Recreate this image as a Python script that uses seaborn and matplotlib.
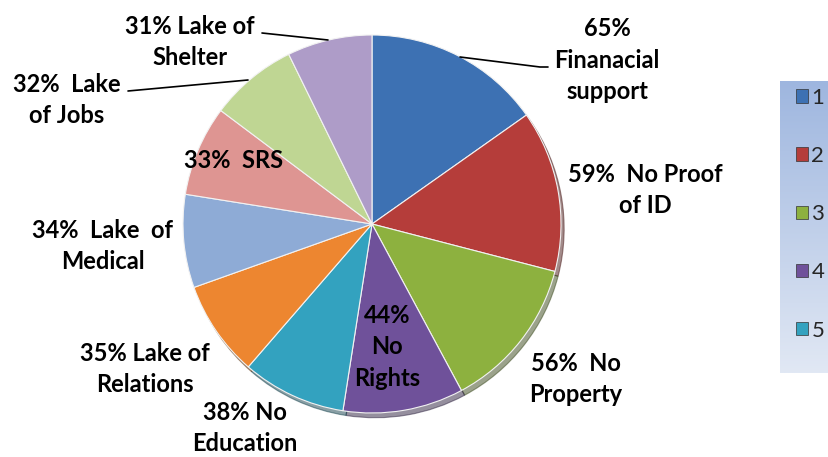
import numpy as np
import matplotlib
matplotlib.use('Agg')
import matplotlib.pyplot as plt
import seaborn as sns

sns.set_theme(style='white')
plt.rcParams['font.family'] = ['Lato', 'DejaVu Sans']

# data
values = [65, 59, 56, 44, 38, 35, 34, 33, 32, 31]
labels = ['65%\nFinanacial\nsupport', '59%  No Proof\nof ID', '56%  No\nProperty',
          '44%\nNo\nRights', '38% No\nEducation', '35% Lake of\nRelations',
          '34%  Lake  of\nMedical', '33%  SRS', '32%  Lake\nof Jobs',
          '31% Lake of\nShelter']
legend_names = ['1', '2', '3', '4', '5']
colors = ['#3D71B3', '#B53D3A', '#8DB13F', '#6F519A', '#33A2BF',
          '#ED8630', '#8EABD6', '#DE9592', '#BFD693', '#AE9CC8']

# label positions in pixels (x, y) of the 829x457 canvas
label_px = [(607, 60), (645, 190), (576, 379), (387, 347), (245, 428),
            (145, 369), (103, 246), (234, 160), (67, 100), (190, 42)]
# leader lines (pixel polylines)
leaders = {0: [(460, 57), (540, 67), (548, 67)],
           8: [(128, 91), (248, 80)],
           9: [(262, 33), (328, 40)]}

W, H = 829, 457
cx, cy, r = 372, 224, 189

fig = plt.figure(figsize=(W / 100, H / 100), dpi=100)
ax = fig.add_axes([(cx - r) / W, (H - cy - r) / H, 2 * r / W, 2 * r / H])
wedges, _ = ax.pie(values, colors=colors, startangle=90, counterclock=False,
                   radius=1, wedgeprops=dict(edgecolor='#f2f2f2', linewidth=0.8),
                   shadow={'ox': 0.012, 'oy': -0.018, 'shade': 0.6})
ax.set_xlim(-1, 1)
ax.set_ylim(-1, 1)
ax.set_aspect('auto')
ax.axis('off')


def to_data(p):
    return ((p[0] - cx) / r, (cy - p[1]) / r)


for i, (lab, p) in enumerate(zip(labels, label_px)):
    x, y = to_data(p)
    ax.text(x, y, lab, ha='center', va='center', fontsize=17, fontweight='bold',
            color='black', linespacing=1.45, clip_on=False)

for i, pts in leaders.items():
    d = np.array([to_data(p) for p in pts])
    ax.plot(d[:, 0], d[:, 1], color='black', lw=1.2, clip_on=False)

# legend background with gradient
lax = fig.add_axes([780 / W, (H - 373) / H, 60 / W, 292 / H])
grad = np.linspace(0, 1, 256).reshape(-1, 1)
cmap = matplotlib.colors.LinearSegmentedColormap.from_list('g', ['#9EB6DF', '#E1E8F4'])
lax.imshow(grad, aspect='auto', cmap=cmap, extent=[0, 1, 0, 1])
lax.set_xlim(0, 1)
lax.set_ylim(0, 1)
lax.axis('off')

handles = [matplotlib.patches.Patch(facecolor=colors[i], edgecolor='#333333', linewidth=0.5)
           for i in range(len(legend_names))]
leg = fig.legend(handles, legend_names, loc='upper left', bbox_to_anchor=(778 / W, (H - 70) / H),
                 frameon=False, fontsize=16, handlelength=0.55, handleheight=0.55,
                 handletextpad=0.15, labelspacing=1.72, borderpad=0.3)

fig.savefig('out.png', dpi=100)
